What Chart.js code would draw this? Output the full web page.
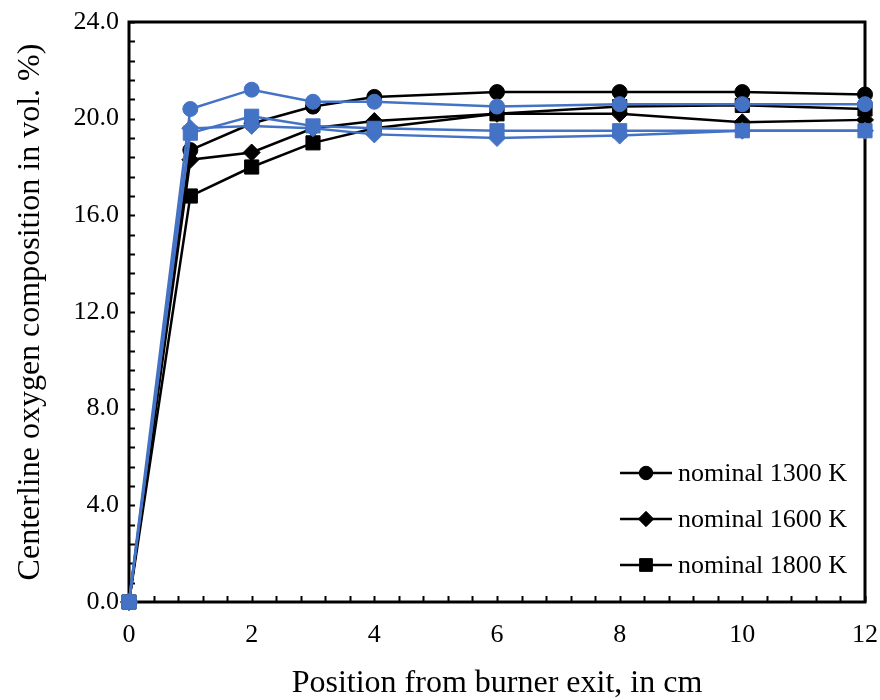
<!DOCTYPE html>
<html>
<head>
<meta charset="utf-8">
<script src="https://cdn.jsdelivr.net/npm/chart.js@4"></script>
<style>
  html, body { margin: 0; padding: 0; background: #fff; }
  #wrap { width: 880px; height: 700px; }
</style>
</head>
<body>
<div id="wrap"><canvas id="myChart" width="880" height="700"></canvas></div>
<script>
// position from burner exit (cm)
const positions = [0, 1, 2, 3, 4, 6, 8, 10, 12];

// black series (in legend)
const o2_1300 = [0, 18.7, 19.8, 20.5, 20.9, 21.1, 21.1, 21.1, 21.0];
const o2_1600 = [0, 18.3, 18.6, 19.6, 19.9, 20.2, 20.2, 19.85, 19.95];
const o2_1800 = [0, 16.8, 18.0, 19.0, 19.6, 20.2, 20.5, 20.55, 20.4];

// blue series (not in legend)
const o2_1300b = [0, 20.4, 21.2, 20.7, 20.7, 20.5, 20.6, 20.6, 20.6];
const o2_1600b = [0, 19.6, 19.7, 19.6, 19.35, 19.2, 19.3, 19.5, 19.5];
const o2_1800b = [0, 19.4, 20.1, 19.7, 19.6, 19.5, 19.5, 19.5, 19.5];

const legendLabels = ['nominal 1300 K', 'nominal 1600 K', 'nominal 1800 K'];

const BLUE = '#4472C4';
const FONT = '"Liberation Serif", "Times New Roman", serif';

function pts(vals) {
	return positions.map((p, i) => ({ x: p, y: vals[i] }));
}

function serie(label, vals, color, style, radius, order) {
	return {
		label: label,
		data: pts(vals),
		borderColor: color,
		backgroundColor: color,
		borderWidth: 2.5,
		pointStyle: style,
		pointRadius: radius,
		pointHoverRadius: radius,
		pointBorderWidth: 1,
		tension: 0,
		clip: false,
		order: order
	};
}

// frame + inside ticks (major and minor)
const frame = {
	id: 'frame',
	beforeDatasetsDraw(chart) {
		const { ctx, chartArea: a, scales: { x, y } } = chart;
		ctx.save();
		ctx.strokeStyle = '#000';
		ctx.lineWidth = 2;
		ctx.beginPath();
		for (let i = 0; i <= 30; i++) {
			const px = Math.round(x.getPixelForValue(i * 0.4)) + 0.5;
			ctx.moveTo(px, a.bottom);
			ctx.lineTo(px, a.bottom - 6);
		}
		for (let i = 0; i <= 30; i++) {
			const py = Math.round(y.getPixelForValue(i * 0.8)) + 0.5;
			ctx.moveTo(a.left, py);
			ctx.lineTo(a.left + 6, py);
		}
		ctx.stroke();
		ctx.lineWidth = 3;
		ctx.strokeRect(a.left, a.top, a.right - a.left, a.bottom - a.top);
		ctx.restore();
	}
};

// legend inside the plot, line + marker
const legendBox = {
	id: 'legendBox',
	afterDraw(chart) {
		const ctx = chart.ctx;
		const rows = [473, 519, 565];
		ctx.save();
		ctx.font = '26px ' + FONT;
		ctx.textBaseline = 'middle';
		ctx.textAlign = 'left';
		legendLabels.forEach((lab, i) => {
			const ds = chart.data.datasets[i];
			const yy = rows[i];
			ctx.strokeStyle = ds.borderColor;
			ctx.lineWidth = 2.5;
			ctx.beginPath();
			ctx.moveTo(620, yy);
			ctx.lineTo(672, yy);
			ctx.stroke();
			ctx.fillStyle = ds.backgroundColor;
			ctx.lineWidth = 1;
			Chart.helpers.drawPoint(ctx, {
				pointStyle: ds.pointStyle,
				radius: ds.pointRadius * 0.9,
				rotation: 0,
				borderWidth: 1
			}, 646, yy);
			ctx.fillStyle = '#000';
			ctx.fillText(lab, 678, yy + 1);
		});
		ctx.restore();
	}
};

const ctx = document.getElementById('myChart').getContext('2d');

new Chart(ctx, {
	type: 'line',
	data: {
		datasets: [
			serie(legendLabels[0], o2_1300, '#000', 'circle', 7.5, 6),
			serie(legendLabels[1], o2_1600, '#000', 'rectRot', 8.5, 5),
			serie(legendLabels[2], o2_1800, '#000', 'rect', 10, 4),
			serie('1300 K (2)', o2_1300b, BLUE, 'circle', 7.5, 3),
			serie('1600 K (2)', o2_1600b, BLUE, 'rectRot', 8.5, 2),
			serie('1800 K (2)', o2_1800b, BLUE, 'rect', 10, 1)
		]
	},
	options: {
		responsive: false,
		animation: false,
		events: [],
		layout: { padding: { top: 22, right: 15, left: 0, bottom: 0 } },
		plugins: {
			legend: { display: false },
			tooltip: { enabled: false }
		},
		scales: {
			x: {
				type: 'linear',
				min: 0,
				max: 12,
				afterFit: (s) => {
					s.height = 98;
					s.paddingLeft = 0;
					s.paddingRight = 0;
				},
				grid: { display: false, drawTicks: false },
				border: { display: false },
				ticks: {
					stepSize: 2,
					padding: 18,
					color: '#000',
					font: { family: FONT, size: 26 },
					maxRotation: 0
				},
				title: {
					display: true,
					text: 'Position from burner exit, in cm',
					color: '#000',
					font: { family: FONT, size: 32 },
					padding: { top: 0, bottom: -3 }
				}
			},
			y: {
				min: 0,
				max: 24,
				afterFit: (s) => {
					s.width = 129;
					s.paddingTop = 0;
					s.paddingBottom = 0;
				},
				grid: { display: false, drawTicks: false },
				border: { display: false },
				ticks: {
					stepSize: 4,
					padding: 10,
					color: '#000',
					font: { family: FONT, size: 26 },
					callback: (v) => v.toFixed(1)
				},
				title: {
					display: true,
					text: 'Centerline oxygen composition in vol. %)',
					color: '#000',
					font: { family: FONT, size: 32 },
					padding: { top: 11, bottom: 0 }
				}
			}
		}
	},
	plugins: [frame, legendBox]
});
</script>
</body>
</html>
